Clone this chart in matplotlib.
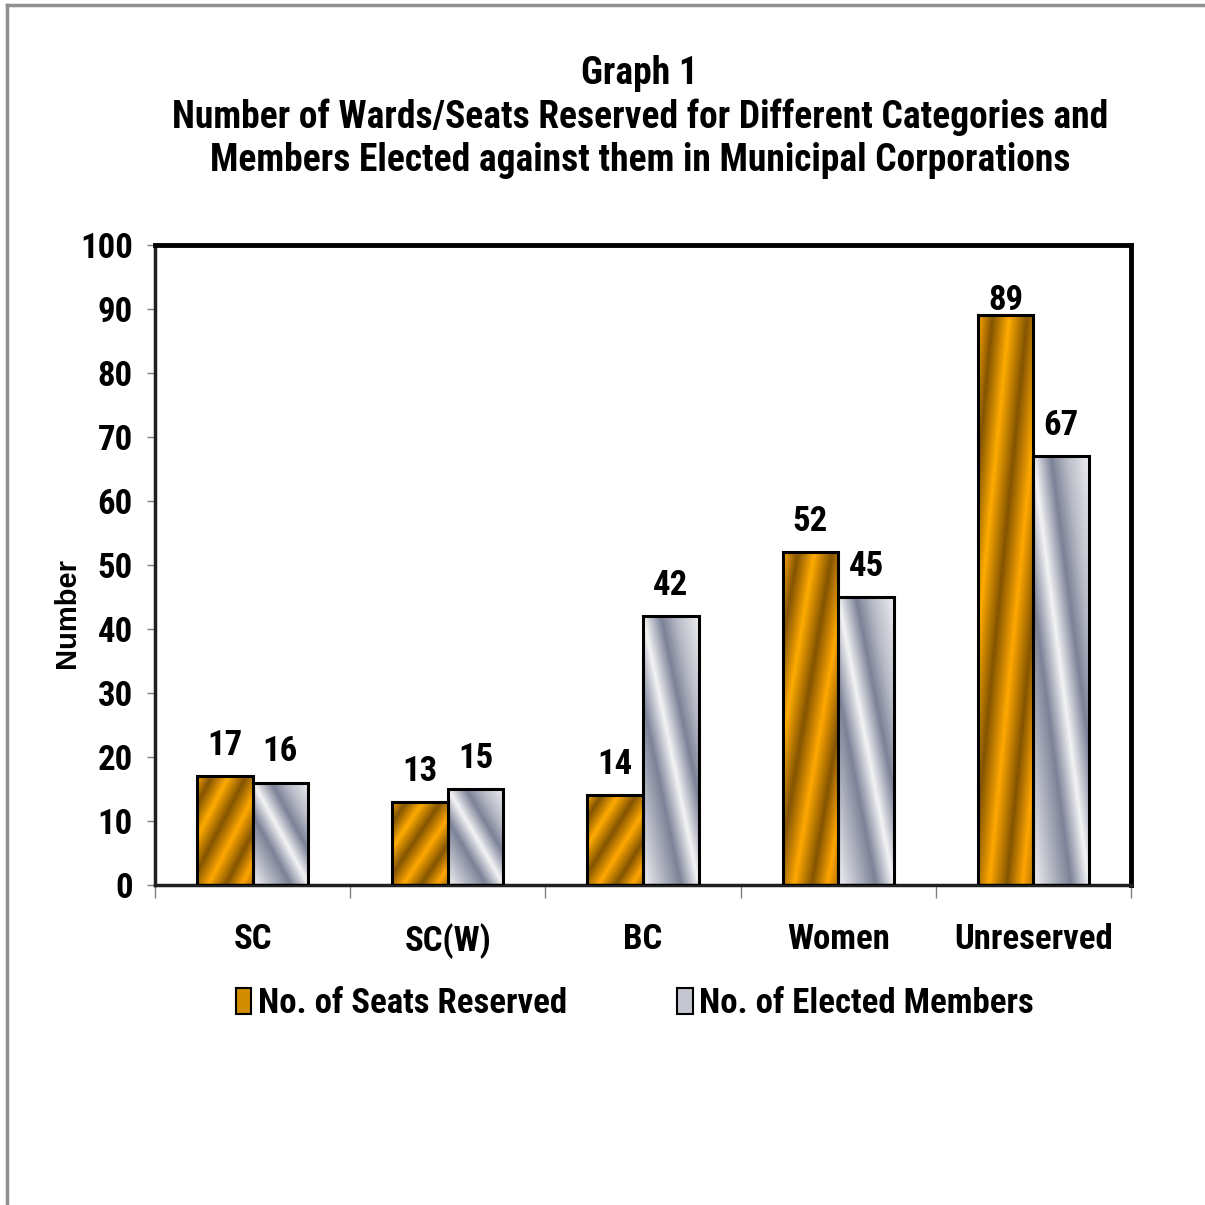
import numpy as np
import matplotlib
matplotlib.use("Agg")
import matplotlib.pyplot as plt
from matplotlib.colors import LinearSegmentedColormap
from matplotlib.patches import Rectangle, Patch
from matplotlib.lines import Line2D

# datos
categories = ["SC", "SC(W)", "BC", "Women", "Unreserved"]
seats_reserved = [17, 13, 14, 52, 89]
elected_members = [16, 15, 42, 45, 67]
series_names = ["No. of Seats Reserved", "No. of Elected Members"]
y_ticks = list(range(0, 101, 10))

title = ("Graph 1\nNumber of Wards/Seats Reserved for Different Categories and\n"
         "Members Elected against them in Municipal Corporations")

# fuente condensada (parecida a Arial Narrow)
plt.rcParams["font.family"] = ["Roboto Condensed", "Liberation Sans", "DejaVu Sans"]
plt.rcParams["font.weight"] = "bold"

gold = LinearSegmentedColormap.from_list("gold", [
    (0.0, "#ffa500"), (0.13, "#845400"), (0.28, "#ffab00"), (0.44, "#845400"),
    (0.6, "#ffa800"), (0.76, "#845400"), (0.9, "#ffa500"), (1.0, "#b57400")])
silver = LinearSegmentedColormap.from_list("silver", [
    (0.0, "#f2f2f4"), (0.22, "#a6aab8"), (0.34, "#7c8297"), (0.5, "#f4f4f6"),
    (0.66, "#7c8297"), (0.8, "#b8bbc6"), (1.0, "#eeeef1")])

fig = plt.figure(figsize=(12.05, 12.05), dpi=100)
ax = fig.add_axes([0.1286, 0.2656, 0.81, 0.531])

n = 300
uu, vv = np.meshgrid(np.linspace(0, 1, n), np.linspace(0, 1, n))
t_gold = (uu - vv + 1) / 2      # franjas "/"
t_silver = (uu + vv) / 2        # franjas "\"

x = np.arange(len(categories))
w = 0.285
FS = 25


def gradient_bar(x0, h, cmap, t):
    ax.imshow(cmap(t), extent=(x0, x0 + w, 0, h), origin="lower",
              aspect="auto", interpolation="bilinear", zorder=2)
    ax.add_patch(Rectangle((x0, 0), w, h, fill=False, edgecolor="black",
                           linewidth=2.2, zorder=3))


def value_label(xc, v):
    # como en Excel, la etiqueta no se sale del área de trazado
    ax.text(xc, min(v + 2.2, 88.7), str(v), ha="center", va="bottom", fontsize=FS)


for i in x:
    gradient_bar(i - w, seats_reserved[i], gold, t_gold)
    gradient_bar(i, elected_members[i], silver, t_silver)
    value_label(i - w / 2, seats_reserved[i])
    value_label(i + w / 2, elected_members[i])

ax.set_xlim(-0.5, len(categories) - 0.5)
ax.set_ylim(0, 100)
ax.set_yticks(y_ticks)
ax.tick_params(axis="y", labelsize=FS, length=6, width=1, color="#808080",
               direction="out", pad=10)
ax.set_xticks(np.arange(-0.5, len(categories), 1.0))
ax.set_xticklabels([])
ax.tick_params(axis="x", length=9, width=1, color="#808080", direction="out")
for i, c in enumerate(categories):
    ax.text(i, -6.0, c, ha="center", va="top", fontsize=FS)

ax.set_ylabel("Number", fontsize=21, fontweight="bold",
              family=["Liberation Sans", "DejaVu Sans"])
ax.yaxis.set_label_coords(-0.076, 0.425)
for s in ["top", "right"]:
    ax.spines[s].set_linewidth(3.5)
for s in ["left", "bottom"]:
    ax.spines[s].set_linewidth(2.5)
    ax.spines[s].set_color("#202020")

fig.text(0.531, 0.954, title, ha="center", va="top", fontsize=27,
         linespacing=1.21)

handles = [Patch(facecolor="#d28c00", edgecolor="black", linewidth=1.5),
           Patch(facecolor="#c4c7d0", edgecolor="black", linewidth=1.5)]
fig.legend(handles, series_names, loc="center", bbox_to_anchor=(0.527, 0.167),
           ncol=2, frameon=False, fontsize=FS, handlelength=0.45,
           handleheight=0.75, handletextpad=0.2, columnspacing=3.15)

# marco exterior gris
fig.add_artist(Line2D([0.0061, 0.0061], [0.0, 0.996], color="#909090",
                      linewidth=2.5, transform=fig.transFigure))
fig.add_artist(Line2D([0.0061, 1.0], [0.996, 0.996], color="#909090",
                      linewidth=2.5, transform=fig.transFigure))

fig.savefig("out.png", dpi=100)
